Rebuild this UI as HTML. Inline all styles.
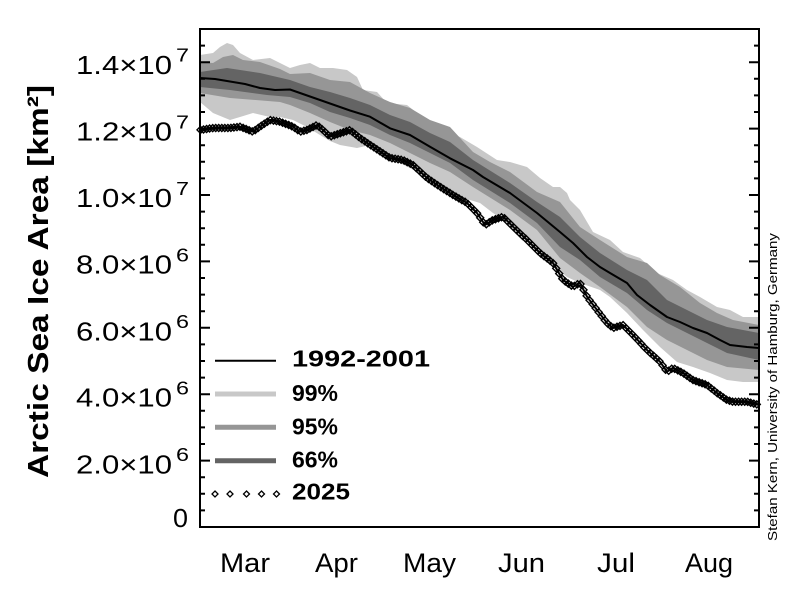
<!DOCTYPE html>
<html>
<head>
<meta charset="utf-8">
<style>
  html,body{margin:0;padding:0;background:#fff;}
  svg{display:block;}
  text{font-family:"Liberation Sans",sans-serif;fill:#000;}
</style>
</head>
<body>
<svg id="chart" width="800" height="600" viewBox="0 0 800 600" xmlns="http://www.w3.org/2000/svg">
  <rect x="0" y="0" width="800" height="600" fill="#fff"/>

  <!-- 99% band -->
  <polygon fill="#c8c8c8" points="
    200,55 213,53 220,47 227,43 233,45 240,53 253,60 270,58 280,63 290,68 300,65 310,63 320,68 333,68 347,70 357,77 363,90 377,92 387,103 407,105 417,113 423,120 437,127 450,133 460,137 477,147 497,160 510,162 527,167 540,178 553,187 560,187 567,193 570,200 580,210 593,232 610,240 623,252 640,258 657,273 673,280 687,290 700,297 717,307 730,310 743,317 759,317
    759,382 743,382 727,380 710,373 693,367 677,362 660,347 643,330 627,313 610,297 600,290 580,283 567,277 547,260 533,247 520,233 507,222 493,213 480,203 460,197 445,188 427,177 410,168 390,158 370,145 357,148 340,145 330,141 320,135 307,127 293,120 280,117 270,117 253,113 240,117 230,120 213,113 200,102"/>

  <!-- 95% band -->
  <polygon fill="#969696" points="
    200,62 213,63 223,57 233,55 243,60 260,62 280,69 290,74 310,73 330,80 350,82 370,93 390,102 410,108 430,120 450,127 473,152 490,162 510,172 537,192 560,202 580,227 600,240 627,257 647,263 660,275 680,287 700,303 717,313 733,320 759,325
    759,370 727,367 707,360 687,350 667,340 647,327 627,307 600,287 580,273 560,258 537,230 510,210 473,187 450,172 430,163 410,153 390,143 370,135 350,130 330,122 310,113 290,105 280,102 230,98 200,93"/>

  <!-- 66% band -->
  <polygon fill="#646464" points="
    200,72 227,68 260,73 290,80 310,87 330,92 350,98 370,105 390,115 410,122 430,133 450,142 473,160 510,183 537,202 560,217 580,237 600,253 627,270 647,280 667,300 687,310 707,320 727,327 759,333
    759,360 727,353 707,343 687,333 667,323 647,310 627,293 600,277 580,260 560,247 537,223 510,203 473,180 450,163 430,153 410,143 390,135 370,125 350,118 330,112 310,103 290,97 267,95 230,90 200,87"/>

  <!-- median 1992-2001 -->
  <polyline fill="none" stroke="#000" stroke-width="2" stroke-linejoin="round" points="
    200,78 215,79 230,81.5 245,84 260,88 275,90 290,89.5 310,96.5 330,103.5 350,110.5 370,116.7 390,128.3 410,135 430,146.7 450,158.3 473,170 483,177 510,193 537,213 560,232 573,243 587,257 600,267 610,273 627,283 637,295 650,305 667,317 680,322 693,328 707,333 720,340 730,345 747,347 759,348"/>

  <!-- 2025 fallback line -->
  <polyline id="fallback" fill="none" stroke="#000" stroke-width="7" stroke-linejoin="round" points="
    200,130 213,128 230,128 240,126.7 253,131.7 260,126.7 270,120 280,121.7 293,126.7 300,131.7 307,130 317,125 323,130 330,136.7 340,133.3 350,130 360,138 373,146.7 390,158 403,160 413,165 427,178 440,186.7 453,195 467,203 477,213 485,225 493,220 503,216.7 513,226.7 527,240 540,253 553,263 563,280 573,286.7 580,283 587,296.7 597,310 607,323 613,328 623,325 633,335 647,350 660,361.7 667,371.7 673,368 683,373 693,380 707,385 717,393 727,400 733,401.7 747,401.7 759,405"/>
  <g id="diamonds"></g>

  <!-- axes box -->
  <g stroke="#000" stroke-width="2" fill="none">
    <line x1="200" y1="29" x2="760" y2="29"/>
    <line x1="199" y1="527" x2="760" y2="527"/>
    <line x1="200" y1="28" x2="200" y2="528"/>
    <line x1="759" y1="28" x2="759" y2="528"/>
  </g>
  <g id="ticks" stroke="#000" stroke-width="2"></g>

  <!-- y tick labels -->
  <g font-size="26">
    <text x="76" y="74" textLength="96" lengthAdjust="spacingAndGlyphs">1.4×10</text>
    <text x="76" y="140.6" textLength="96" lengthAdjust="spacingAndGlyphs">1.2×10</text>
    <text x="76" y="207.1" textLength="96" lengthAdjust="spacingAndGlyphs">1.0×10</text>
    <text x="76" y="273.7" textLength="96" lengthAdjust="spacingAndGlyphs">8.0×10</text>
    <text x="76" y="340.3" textLength="96" lengthAdjust="spacingAndGlyphs">6.0×10</text>
    <text x="76" y="406.7" textLength="96" lengthAdjust="spacingAndGlyphs">4.0×10</text>
    <text x="76" y="473.4" textLength="96" lengthAdjust="spacingAndGlyphs">2.0×10</text>
    <text x="173" y="527" textLength="15" lengthAdjust="spacingAndGlyphs">0</text>
  </g>
  <g font-size="18">
    <text x="176" y="61.7" textLength="13" lengthAdjust="spacingAndGlyphs">7</text>
    <text x="176" y="128.3" textLength="13" lengthAdjust="spacingAndGlyphs">7</text>
    <text x="176" y="194.8" textLength="13" lengthAdjust="spacingAndGlyphs">7</text>
    <text x="176" y="261.4" textLength="13" lengthAdjust="spacingAndGlyphs">6</text>
    <text x="176" y="328" textLength="13" lengthAdjust="spacingAndGlyphs">6</text>
    <text x="176" y="394.4" textLength="13" lengthAdjust="spacingAndGlyphs">6</text>
    <text x="176" y="461.1" textLength="13" lengthAdjust="spacingAndGlyphs">6</text>
  </g>

  <!-- y axis title -->
  <text transform="translate(48,478) rotate(-90)" font-size="29" font-weight="bold" textLength="393" lengthAdjust="spacingAndGlyphs">Arctic Sea Ice Area [km²]</text>

  <!-- month labels -->
  <g font-size="27">
    <text x="220" y="572" textLength="50" lengthAdjust="spacingAndGlyphs">Mar</text>
    <text x="315" y="572" textLength="43" lengthAdjust="spacingAndGlyphs">Apr</text>
    <text x="403" y="572" textLength="53" lengthAdjust="spacingAndGlyphs">May</text>
    <text x="498" y="572" textLength="47" lengthAdjust="spacingAndGlyphs">Jun</text>
    <text x="597" y="572" textLength="38" lengthAdjust="spacingAndGlyphs">Jul</text>
    <text x="685" y="572" textLength="48" lengthAdjust="spacingAndGlyphs">Aug</text>
  </g>

  <!-- credit -->
  <text transform="translate(777,541) rotate(-90)" font-size="13" textLength="308" lengthAdjust="spacingAndGlyphs">Stefan Kern, University of Hamburg, Germany</text>

  <!-- legend -->
  <line x1="215" y1="360.7" x2="276" y2="360.7" stroke="#000" stroke-width="2"/>
  <line x1="215" y1="394" x2="276" y2="394" stroke="#c8c8c8" stroke-width="5"/>
  <line x1="215" y1="427.3" x2="276" y2="427.3" stroke="#969696" stroke-width="5"/>
  <line x1="215" y1="460.7" x2="276" y2="460.7" stroke="#646464" stroke-width="5"/>
  <g fill="none" stroke="#000" stroke-width="1.3">
    <path d="M215,491 L218,494 L215,497 L212,494 Z"/>
    <path d="M230,491 L233,494 L230,497 L227,494 Z"/>
    <path d="M246.5,491 L249.5,494 L246.5,497 L243.5,494 Z"/>
    <path d="M261.5,491 L264.5,494 L261.5,497 L258.5,494 Z"/>
    <path d="M276.5,491 L279.5,494 L276.5,497 L273.5,494 Z"/>
  </g>
  <g font-size="23" font-weight="bold">
    <text x="292" y="366.7" textLength="138" lengthAdjust="spacingAndGlyphs">1992-2001</text>
    <text x="292" y="401" textLength="46" lengthAdjust="spacingAndGlyphs">99%</text>
    <text x="292" y="434.3" textLength="46" lengthAdjust="spacingAndGlyphs">95%</text>
    <text x="292" y="467.7" textLength="46" lengthAdjust="spacingAndGlyphs">66%</text>
    <text x="292" y="499.3" textLength="58" lengthAdjust="spacingAndGlyphs">2025</text>
  </g>
</svg>
<script>
(function(){
  var NS="http://www.w3.org/2000/svg";
  // ticks
  var tg=document.getElementById("ticks");
  var d="";
  for(var i=1;i<30;i++){
    var y=527-i*16.6;
    var len=(i%4===0)?10:5;
    d+="M200,"+y.toFixed(1)+"h"+len+"M759,"+y.toFixed(1)+"h-"+len;
  }
  var tp=document.createElementNS(NS,"path");
  tp.setAttribute("d",d);
  tg.appendChild(tp);
  // diamonds
  var pts=[[200,130],[213,128],[230,128],[240,126.7],[253,131.7],[260,126.7],[270,120],[280,121.7],[293,126.7],[300,131.7],[307,130],[317,125],[323,130],[330,136.7],[340,133.3],[350,130],[360,138],[373,146.7],[390,158],[403,160],[413,165],[427,178],[440,186.7],[453,195],[467,203],[477,213],[485,225],[493,220],[503,216.7],[513,226.7],[527,240],[540,253],[553,263],[563,280],[573,286.7],[580,283],[587,296.7],[597,310],[607,323],[613,328],[623,325],[633,335],[647,350],[660,361.7],[667,371.7],[673,368],[683,373],[693,380],[707,385],[717,393],[727,400],[733,401.7],[747,401.7],[759,405]];
  function interp(x){
    for(var k=0;k<pts.length-1;k++){
      if(x>=pts[k][0]&&x<=pts[k+1][0]){
        var t=(x-pts[k][0])/(pts[k+1][0]-pts[k][0]);
        return pts[k][1]+t*(pts[k+1][1]-pts[k][1]);
      }
    }
    return pts[pts.length-1][1];
  }
  var s="";
  var h=3.5;
  for(var x=200.5;x<=759;x+=3.04){
    var y=interp(x);
    s+="M"+x.toFixed(1)+","+(y-h).toFixed(1)+"L"+(x+h).toFixed(1)+","+y.toFixed(1)+"L"+x.toFixed(1)+","+(y+h).toFixed(1)+"L"+(x-h).toFixed(1)+","+y.toFixed(1)+"Z";
  }
  var p=document.createElementNS(NS,"path");
  p.setAttribute("d",s);
  p.setAttribute("fill","none");
  p.setAttribute("stroke","#000");
  p.setAttribute("stroke-width","1.4");
  document.getElementById("diamonds").appendChild(p);
  document.getElementById("fallback").setAttribute("stroke-width","2");
})();
</script>
</body>
</html>
